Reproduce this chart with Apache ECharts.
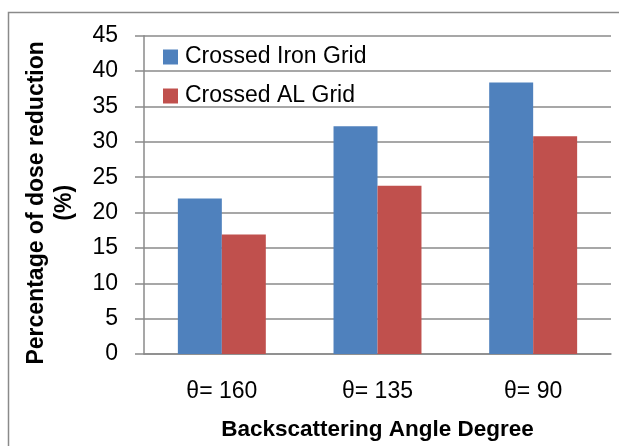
<!DOCTYPE html>
<html>
<head>
<meta charset="utf-8">
<script src="https://cdn.jsdelivr.net/npm/echarts@6/dist/echarts.min.js"></script>
<style>
html,body{margin:0;padding:0;background:#fff;}
#chart{width:619px;height:446px;}
</style>
</head>
<body>
<div id="chart"></div>
<script>
const categories = ['θ= 160', 'θ= 135', 'θ= 90'];
const ironGrid = [22, 32.2, 38.4];
const alGrid = [16.9, 23.8, 30.8];
const seriesNames = ['Crossed Iron Grid', 'Crossed AL Grid'];
const yTicks = { min: 0, max: 45, interval: 5 };
const xTitle = 'Backscattering Angle Degree';
const yTitle = 'Percentage of dose reduction\n(%)';

const FONT = '"Liberation Sans", Arial, sans-serif';
const chart = echarts.init(document.getElementById('chart'), null, { renderer: 'canvas' });
chart.setOption({
  animation: false,
  backgroundColor: '#ffffff',
  textStyle: { fontFamily: FONT },
  graphic: [{
    type: 'rect',
    shape: { x: 8.5, y: 12.5, width: 700, height: 500 },
    style: { fill: 'none', stroke: '#8a8a8a', lineWidth: 1.5 },
    z: -10
  }],
  grid: { left: 144, right: 8, top: 35.7, bottom: 86.3, containLabel: false },
  legend: {
    orient: 'vertical',
    left: 158,
    top: 40,
    itemWidth: 15,
    itemHeight: 15,
    itemGap: 15,
    icon: 'rect',
    textStyle: { fontFamily: FONT, fontSize: 23, color: '#000', lineHeight: 24, padding: [0, 0, 0, 2] },
    data: seriesNames
  },
  xAxis: {
    type: 'category',
    data: categories,
    axisLine: { lineStyle: { color: '#8a8a8a', width: 1.5 } },
    axisTick: { show: false },
    axisLabel: { fontFamily: FONT, fontSize: 23, color: '#000', margin: 26 },
    name: xTitle,
    nameLocation: 'middle',
    nameGap: 64,
    nameTextStyle: { fontFamily: FONT, fontSize: 22.5, fontWeight: 'bold', color: '#000' }
  },
  yAxis: {
    type: 'value',
    min: yTicks.min,
    max: yTicks.max,
    interval: yTicks.interval,
    axisLine: { show: true, lineStyle: { color: '#8a8a8a', width: 1.5 } },
    axisTick: { show: true, length: 9, lineStyle: { color: '#8a8a8a', width: 1.5 } },
    splitLine: { show: true, lineStyle: { color: '#8a8a8a', width: 1.5 } },
    axisLabel: { fontFamily: FONT, fontSize: 23, color: '#000', margin: 26 },
    name: yTitle,
    nameLocation: 'middle',
    nameGap: 65,
    nameTextStyle: { fontFamily: FONT, fontSize: 23, fontWeight: 'bold', color: '#000', lineHeight: 28, padding: [0, 16, 0, 0] }
  },
  series: [
    { name: seriesNames[0], type: 'bar', data: ironGrid, itemStyle: { color: '#4F81BD' }, barGap: '0%', barCategoryGap: '43.5%' },
    { name: seriesNames[1], type: 'bar', data: alGrid, itemStyle: { color: '#C0504D' }, barGap: '0%', barCategoryGap: '43.5%' }
  ]
});
</script>
</body>
</html>
